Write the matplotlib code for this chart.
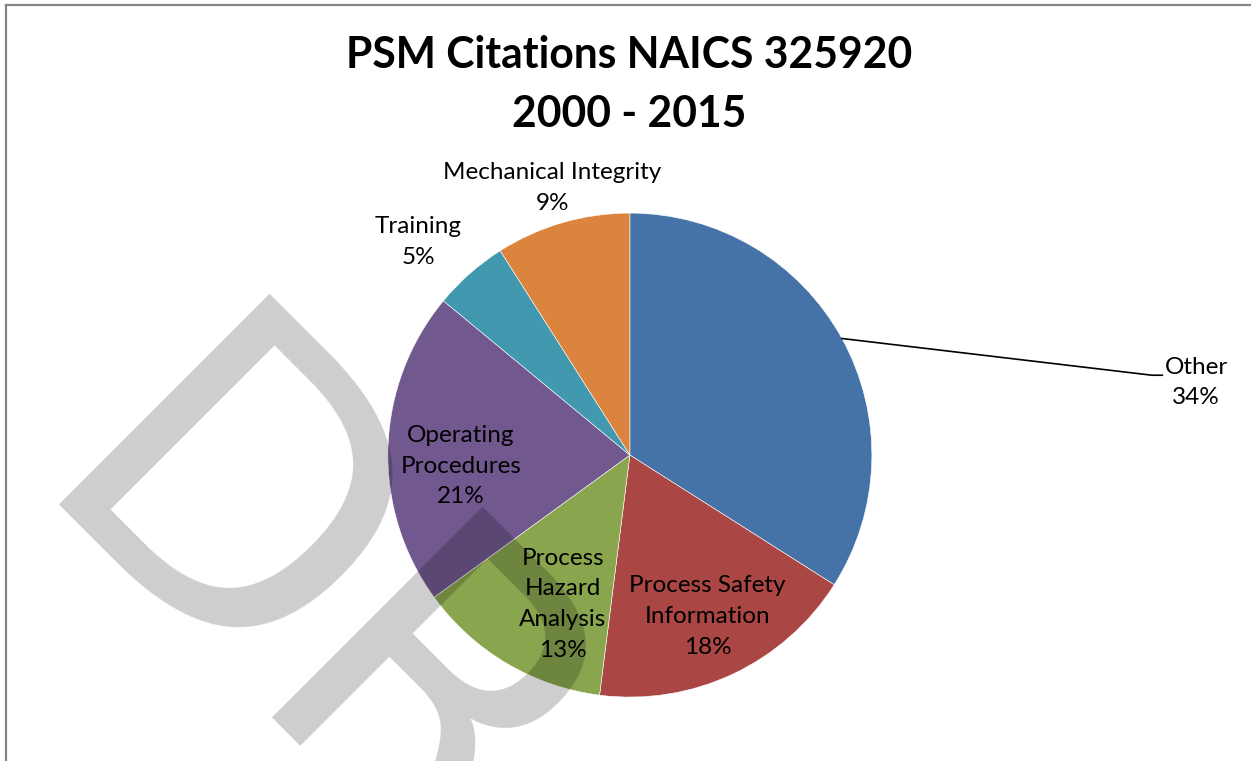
#!/usr/bin/env python3

import matplotlib
matplotlib.use("Agg")
import numpy as np
import matplotlib.pyplot as plt
from matplotlib.lines import Line2D

plt.rcParams['font.family'] = ['Lato', 'DejaVu Sans']

# data
categories = ["Other", "Process Safety\nInformation", "Process\nHazard\nAnalysis",
              "Operating\nProcedures", "Training", "Mechanical Integrity"]
percents = [34, 18, 13, 21, 5, 9]
colors = ["#4572a7", "#aa4643", "#89a54e", "#71588f", "#4198af", "#db843d"]
title = "PSM Citations NAICS 325920\n2000 - 2015"
watermark = "DRAFT"

# label placement: (distance in radii, angle nudge in deg), None = outside label
label_pos = [None, (0.74, 0.5), (0.675, 6.4), (0.70, 5.5), (1.24, 3.4), (1.15, 0)]

W, H = 1251, 761
fig = plt.figure(figsize=(W / 100, H / 100), dpi=100)
ax = fig.add_axes([0.310, 0.084, 0.387, 0.636])

wedges, _ = ax.pie(percents, colors=colors, startangle=90, counterclock=False,
                   radius=1, wedgeprops=dict(edgecolor="white", linewidth=0.4))
ax.set_xlim(-1, 1)
ax.set_ylim(-1, 1)
ax.set_aspect("equal")
ax.axis("off")

for w, cat, p, pos in zip(wedges, categories, percents, label_pos):
    mid = (w.theta1 + w.theta2) / 2
    txt = "%s\n%d%%" % (cat, p)
    if pos is None:
        # leader line from the slice edge to the outside label
        x0, y0 = np.cos(np.deg2rad(mid)), np.sin(np.deg2rad(mid))
        ax.add_line(Line2D([x0, 2.157, 2.20], [y0, 0.33, 0.33], color="black",
                           lw=1.2, clip_on=False))
        ax.text(2.34, 0.30, txt, ha="center", va="center", fontsize=17.5,
                linespacing=1.57, clip_on=False)
    else:
        d, nudge = pos
        a = np.deg2rad(mid + nudge)
        ax.text(d * np.cos(a), d * np.sin(a), txt, ha="center", va="center",
                fontsize=17.5, linespacing=1.57, clip_on=False)

fig.text(0.503, 0.889, title, ha="center", va="center", fontsize=30.7,
         fontweight="bold", linespacing=1.58)

# chart border (only top and left visible)
fig.add_artist(Line2D([0.0045, 0.0045], [0, 0.993], color="#868686", lw=1.6))
fig.add_artist(Line2D([0.0045, 1], [0.993, 0.993], color="#868686", lw=1.6))

# DRAFT watermark on top, one letter at a time along a -45 deg baseline
step = 213
for i, ch in enumerate(watermark):
    px, py = 18 + step * i, 504 + step * i
    fig.text(px / W, 1 - py / H, ch, family="DejaVu Sans", fontsize=294,
             color="black", alpha=0.196, rotation=-45, rotation_mode="anchor",
             ha="left", va="baseline", zorder=10)

fig.savefig("out.png", dpi=100)
